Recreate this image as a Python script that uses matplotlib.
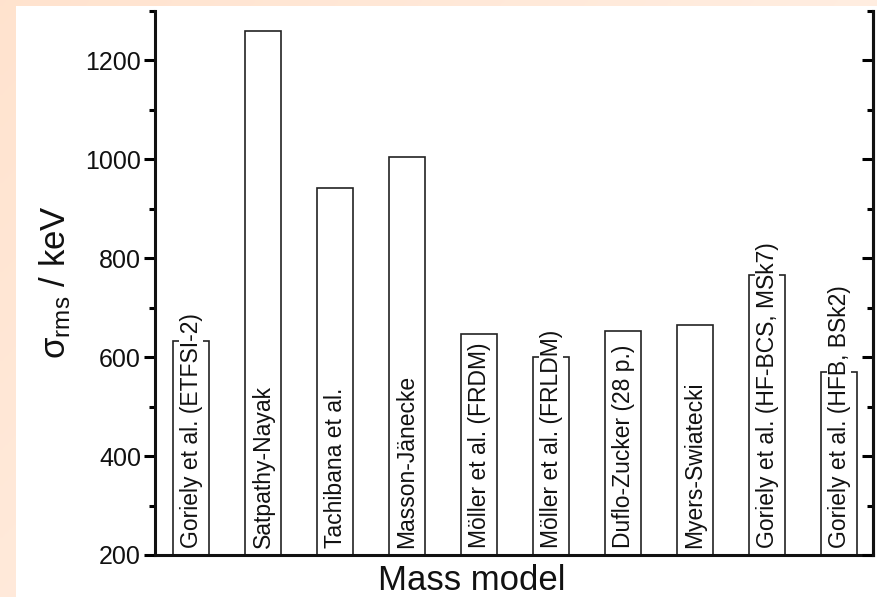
import numpy as np
import matplotlib
matplotlib.use('Agg')
import matplotlib.pyplot as plt
from matplotlib.ticker import MultipleLocator
from matplotlib.patches import Rectangle

plt.rcParams['font.family'] = ['Liberation Sans', 'DejaVu Sans']
plt.rcParams['mathtext.fontset'] = 'custom'
plt.rcParams['mathtext.rm'] = 'Liberation Sans'
plt.rcParams['mathtext.it'] = 'Liberation Sans:italic'

models = ['Goriely et al. (ETFSI-2)', 'Satpathy-Nayak', 'Tachibana et al.',
          'Masson-Jänecke', 'Möller et al. (FRDM)', 'Möller et al. (FRLDM)',
          'Duflo-Zucker (28 p.)', 'Myers-Swiatecki',
          'Goriely et al. (HF-BCS, MSk7)', 'Goriely et al. (HFB, BSk2)']
sigma_rms = [632, 1259, 943, 1004, 646, 600, 653, 665, 766, 570]

W, H = 878, 597
fig = plt.figure(figsize=(W / 100, H / 100), dpi=100)

# peach frame fading out to the right and downwards
bg = fig.add_axes([0, 0, 1, 1], zorder=-10)
xx, yy = np.meshgrid(np.linspace(0, 1, 200), np.linspace(0, 1, 200))
t = np.clip(0.55 * xx + 0.35 * yy, 0, 1)
peach = np.array([1.0, 0.89, 0.81])
light = np.array([1.0, 0.965, 0.94])
img = peach[None, None, :] * (1 - t[..., None]) + light[None, None, :] * t[..., None]
bg.imshow(img, extent=[0, 1, 0, 1], aspect='auto', origin='upper')
bg.add_patch(Rectangle((16 / W, 0), 1, 1 - 6 / H, facecolor='white', edgecolor='none'))
bg.set_xlim(0, 1)
bg.set_ylim(0, 1)
bg.axis('off')

ax = fig.add_axes([155 / W, 42 / H, (873 - 155) / W, (555 - 11) / H])
ax.patch.set_alpha(0)

x = np.arange(len(models))
ax.bar(x, np.array(sigma_rms) - 200, bottom=200, width=0.5,
       facecolor='white', edgecolor='#222222', linewidth=1.2, zorder=2)

for xi, name in zip(x, models):
    ax.text(xi, 214, name, rotation=90, ha='center', va='bottom',
            fontsize=16.5, color='#111111', zorder=3,
            bbox=dict(facecolor='white', edgecolor='none', pad=0.5))

ax.set_xlim(-0.5, 9.47)
ax.set_ylim(200, 1300)
ax.set_xticks([])
ax.yaxis.set_major_locator(MultipleLocator(200))
ax.yaxis.set_minor_locator(MultipleLocator(100))
ax.set_yticks([200, 400, 600, 800, 1000, 1200])

ax.tick_params(axis='y', which='major', direction='out', length=8, width=2.2,
               labelsize=18, labelcolor='#111111', pad=2, left=True, right=False)
ax.tick_params(axis='y', which='minor', direction='out', length=4, width=2.2,
               left=True, right=False)
for side in ['left', 'bottom', 'right']:
    ax.spines[side].set_linewidth(2.2)
    ax.spines[side].set_color('#111111')
ax.spines['top'].set_visible(False)

# inward ticks on the right spine
ax2 = ax.twinx()
ax2.set_ylim(ax.get_ylim())
ax2.yaxis.set_major_locator(MultipleLocator(200))
ax2.yaxis.set_minor_locator(MultipleLocator(100))
ax2.tick_params(axis='y', which='major', direction='in', length=8, width=2.2,
                labelright=False)
ax2.tick_params(axis='y', which='minor', direction='in', length=4, width=2.2)
for side in ['left', 'bottom', 'top']:
    ax2.spines[side].set_visible(False)
ax2.spines['right'].set_linewidth(2.2)
ax2.spines['right'].set_color('#111111')

fig.text(55 / W, 1 - 282 / H, r'σ$_{\mathrm{rms}}$ / keV', rotation=90,
         ha='center', va='center', fontsize=25, color='#111111')
fig.text(472 / W, 1 - 580 / H, 'Mass model', ha='center', va='center',
         fontsize=25, color='#111111')

fig.savefig('out.png', dpi=100)
